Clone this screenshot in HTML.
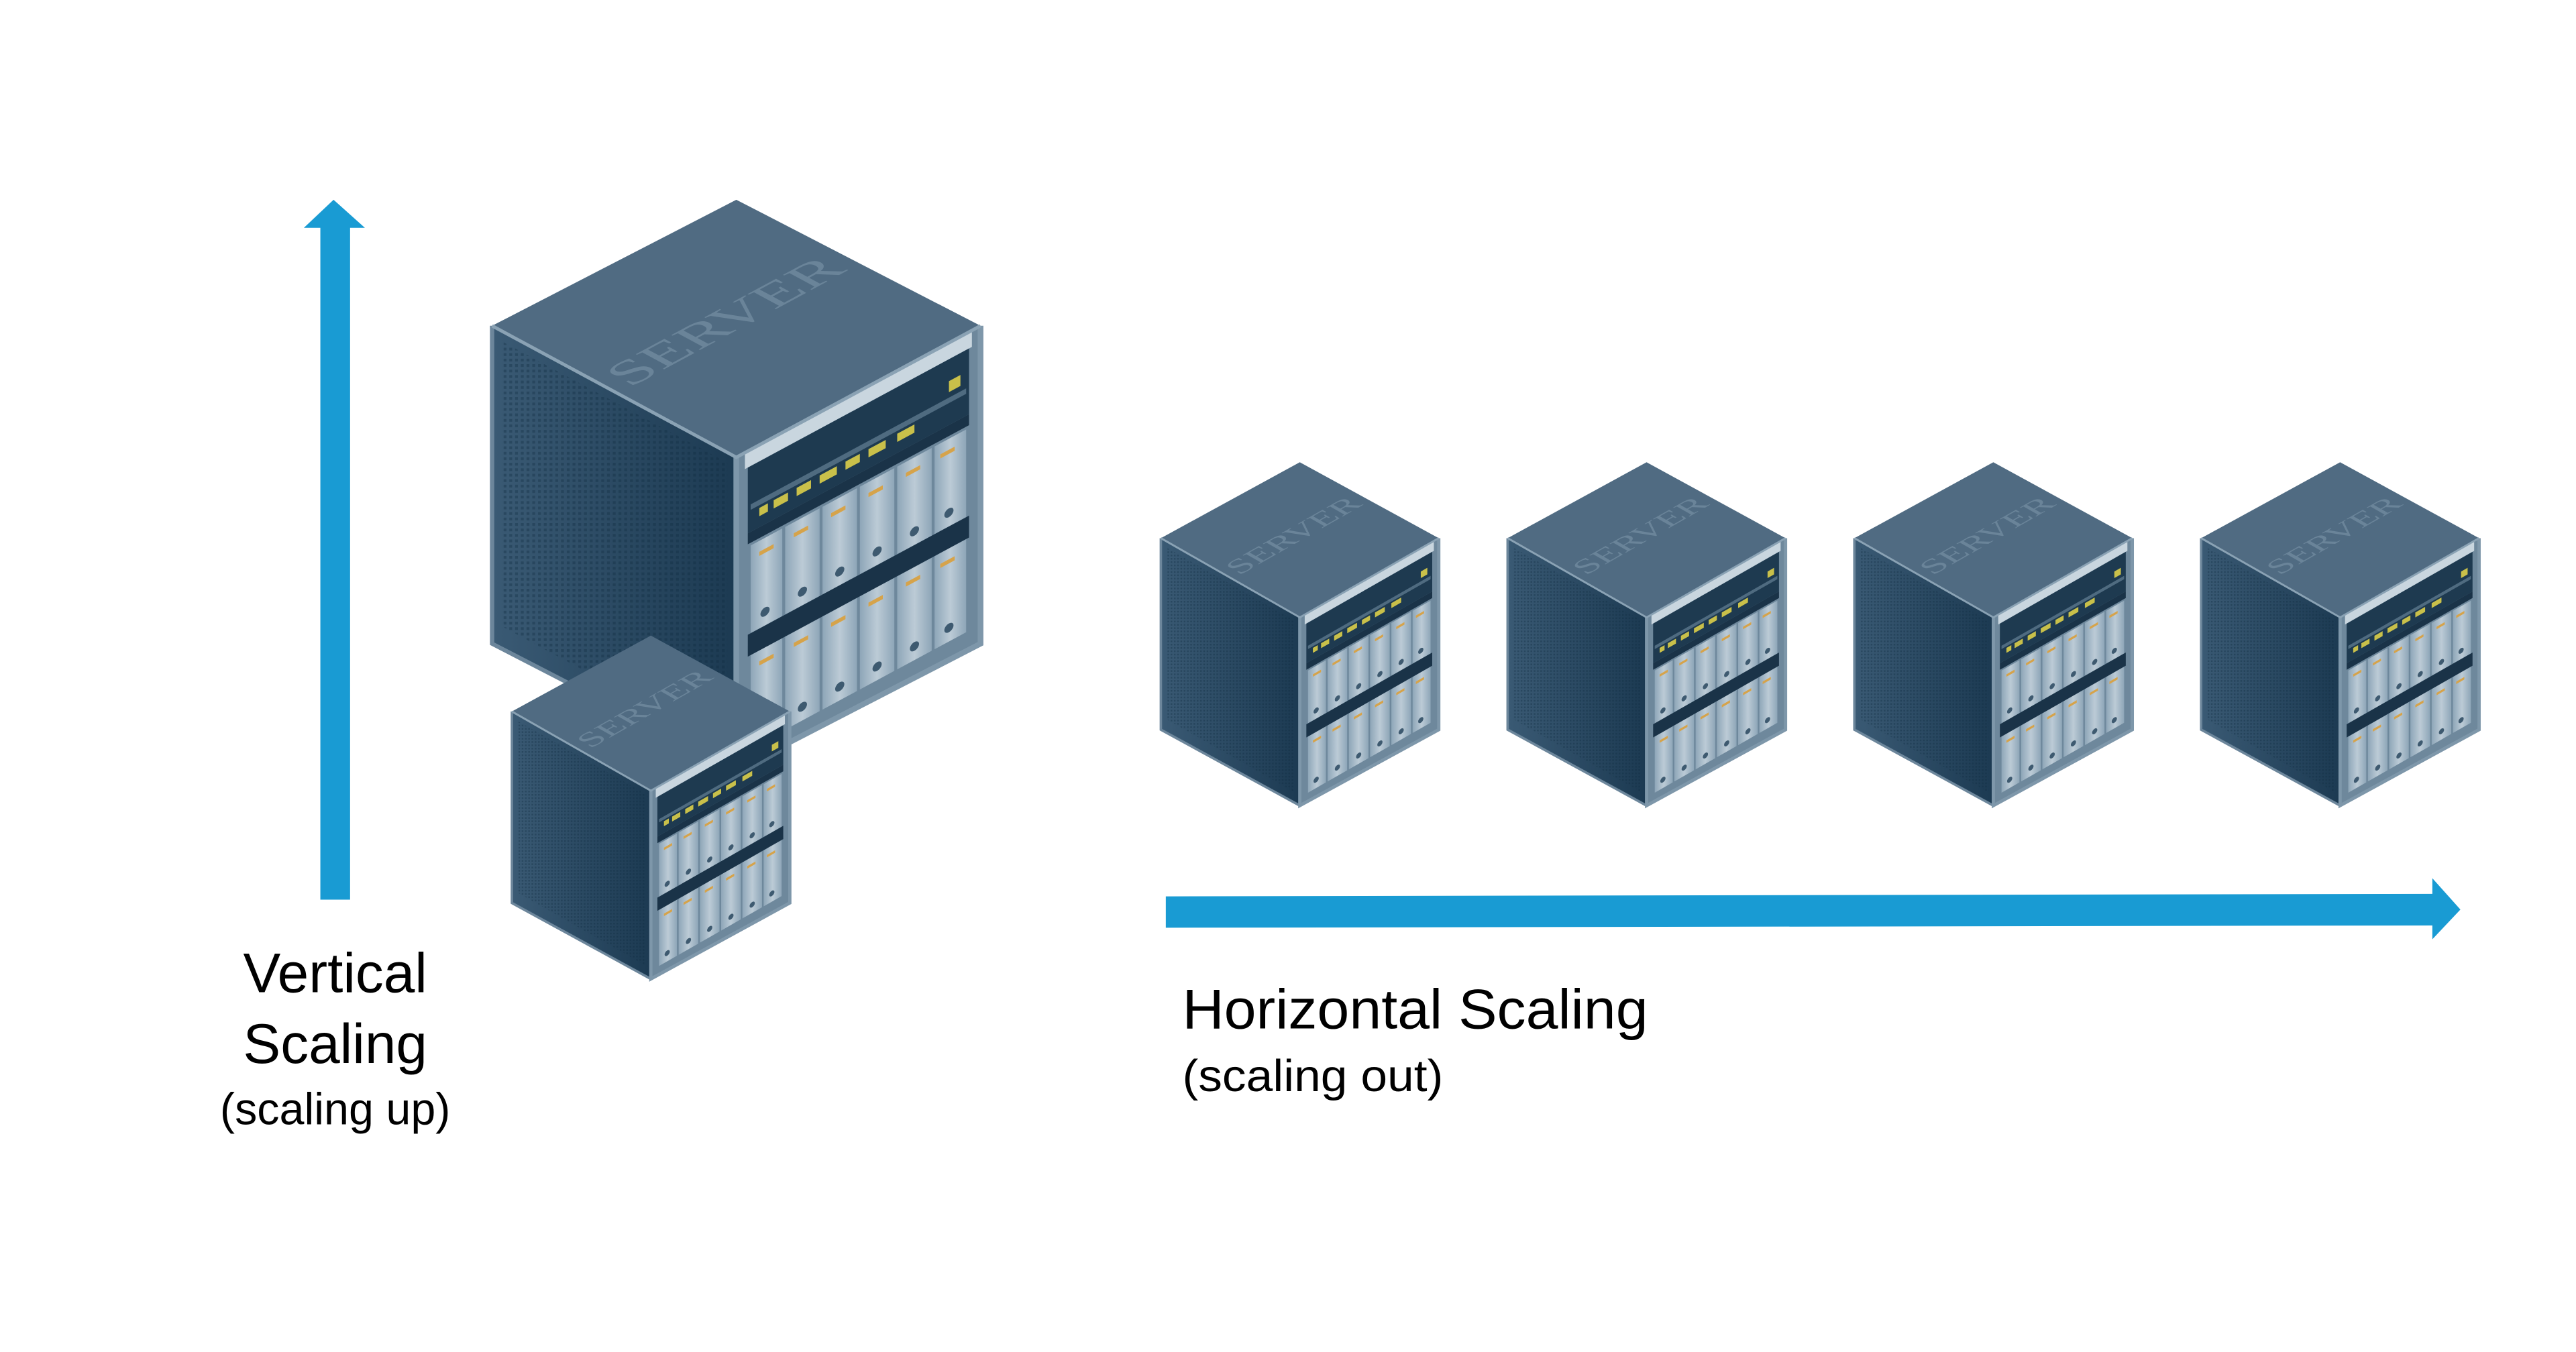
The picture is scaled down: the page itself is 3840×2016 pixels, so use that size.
<!DOCTYPE html>
<html><head><meta charset="utf-8"><style>
html,body{margin:0;padding:0;background:#fff;}
svg{display:block}
</style></head><body>
<svg width="3840" height="2016" viewBox="0 0 1560 819" xmlns="http://www.w3.org/2000/svg">
<defs>
<linearGradient id="lf" x1="0" y1="0" x2="1" y2="0">
<stop offset="0" stop-color="#3a5a74"/><stop offset="1" stop-color="#1c3a52"/></linearGradient>
<linearGradient id="drv" x1="0" y1="0" x2="1" y2="0">
<stop offset="0" stop-color="#8ea6b8"/><stop offset="0.5" stop-color="#bccbd6"/><stop offset="1" stop-color="#8ea6b8"/></linearGradient>
<pattern id="mesh" width="2" height="2" patternUnits="userSpaceOnUse">
<rect width="1" height="1" fill="#0f2a40" opacity="0.35"/></pattern>
<g id="srv">
  <polygon points="0,46 85,94 85,208 0,162" fill="url(#lf)"/>
  <polygon points="4,52 82,96 82,200 4,156" fill="url(#mesh)"/>
  <polyline points="0,46 0,162 85,208" fill="none" stroke="#6c869b" stroke-width="1.5"/>
  <polygon points="85,94 170,46 170,162 85,208" fill="#6e889c"/>
  <g transform="matrix(1,-0.5647,0,1,85,94)">
    <rect x="3" y="0" width="79" height="6" fill="#c9d6df"/>
    <rect x="4" y="6" width="77" height="24" fill="#1e3a50"/>
    <rect x="5" y="20" width="75" height="2" fill="#4f6b80"/>
    <g fill="#c9c04a">
      <rect x="8" y="23" width="3" height="3"/><rect x="13" y="23" width="5" height="3"/><rect x="21" y="23" width="5" height="3"/>
      <rect x="29" y="23" width="6" height="3"/><rect x="38" y="23" width="5" height="3"/><rect x="46" y="23" width="6" height="3"/>
      <rect x="56" y="23" width="6" height="3"/><rect x="74" y="14" width="4" height="4"/>
    </g>
    <rect x="4" y="30" width="77" height="4" fill="#1a3348"/>
    <g fill="url(#drv)">
      <rect x="5" y="35" width="11" height="32"/><rect x="17" y="35" width="12" height="32"/><rect x="30" y="35" width="12" height="32"/>
      <rect x="43" y="35" width="12" height="32"/><rect x="56" y="35" width="12" height="32"/><rect x="69" y="35" width="11" height="32"/>
      <rect x="5" y="75" width="11" height="34"/><rect x="17" y="75" width="12" height="34"/><rect x="30" y="75" width="12" height="34"/>
      <rect x="43" y="75" width="12" height="34"/><rect x="56" y="75" width="12" height="34"/><rect x="69" y="75" width="11" height="34"/>
    </g>
    <rect x="4" y="67" width="77" height="8" fill="#1a3348"/>
    <g fill="#3e5a70">
      <circle cx="10" cy="62" r="1.6"/><circle cx="23" cy="62" r="1.6"/><circle cx="36" cy="62" r="1.6"/><circle cx="49" cy="62" r="1.6"/><circle cx="62" cy="62" r="1.6"/><circle cx="74" cy="62" r="1.6"/>
      <circle cx="10" cy="104" r="1.6"/><circle cx="23" cy="104" r="1.6"/><circle cx="36" cy="104" r="1.6"/><circle cx="49" cy="104" r="1.6"/><circle cx="62" cy="104" r="1.6"/><circle cx="74" cy="104" r="1.6"/>
    </g>
    <g fill="#d6a34a">
      <rect x="8" y="39" width="5" height="1.5"/><rect x="20" y="39" width="5" height="1.5"/><rect x="33" y="39" width="5" height="1.5"/><rect x="46" y="39" width="5" height="1.5"/><rect x="59" y="39" width="5" height="1.5"/><rect x="71" y="39" width="5" height="1.5"/>
      <rect x="8" y="79" width="5" height="1.5"/><rect x="20" y="79" width="5" height="1.5"/><rect x="33" y="79" width="5" height="1.5"/><rect x="46" y="79" width="5" height="1.5"/><rect x="59" y="79" width="5" height="1.5"/><rect x="71" y="79" width="5" height="1.5"/>
    </g>
  </g>
  <polyline points="85,94 85,208 170,162 170,46" fill="none" stroke="#7e97aa" stroke-width="2"/>
  <polygon points="85,0 170,46 85,94 0,46" fill="#506b82"/>
  <polyline points="0,46 85,94 170,46" fill="none" stroke="#8aa2b4" stroke-width="1.2"/>
  <g transform="matrix(1,-0.5647,0.5,0.2824,0,46)">
    <text x="4" y="88" font-family="Liberation Serif, serif" font-size="30" fill="#6a8499" textLength="76" lengthAdjust="spacingAndGlyphs">SERVER</text>
  </g>
</g>
</defs>

<polygon points="194,545 212,545 212,138 221,138 202,121 184,138 194,138" fill="#199bd3"/>
<polygon points="706,543 1473,541.5 1473,532 1490,551 1473,569 1473,560.6 706,562" fill="#199bd3"/>

<use href="#srv" transform="translate(298,121) scale(1.74,1.66)"/>
<use href="#srv" transform="translate(310,385) scale(0.99,1)"/>
<use href="#srv" transform="translate(703,280) scale(0.99,1)"/>
<use href="#srv" transform="translate(913,280) scale(0.99,1)"/>
<use href="#srv" transform="translate(1123,280) scale(0.99,1)"/>
<use href="#srv" transform="translate(1333,280) scale(0.99,1)"/>

<g font-family="Liberation Sans, Arial, sans-serif" fill="#000">
<text x="203" y="601" font-size="34" text-anchor="middle">Vertical</text>
<text x="203" y="644" font-size="34" text-anchor="middle">Scaling</text>
<text x="203" y="681" font-size="27" text-anchor="middle">(scaling up)</text>
<text x="716" y="623" font-size="34" textLength="282" lengthAdjust="spacingAndGlyphs">Horizontal Scaling</text>
<text x="716" y="661" font-size="27" textLength="158" lengthAdjust="spacingAndGlyphs">(scaling out)</text>
</g>
</svg>
</body></html>
